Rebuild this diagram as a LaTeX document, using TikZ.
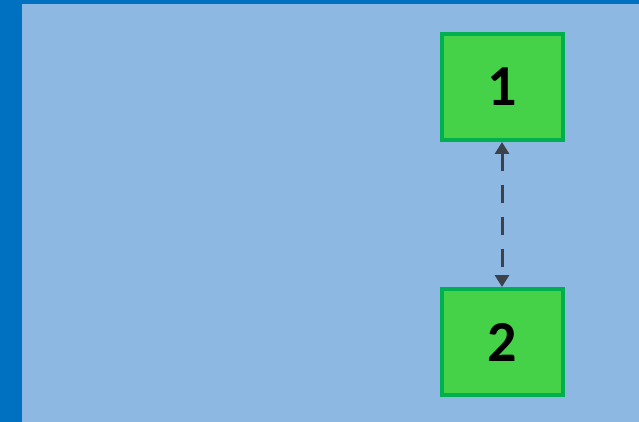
\documentclass[tikz,border=0pt]{standalone}
\usepackage{fontspec}
\setmainfont{Carlito}
\usetikzlibrary{arrows.meta}
\definecolor{bgblue}{RGB}{141,184,226}
\definecolor{darkblue}{RGB}{0,112,192}
\definecolor{boxgreen}{RGB}{70,210,72}
\definecolor{boxborder}{RGB}{0,176,80}
\definecolor{arrowgrey}{RGB}{60,66,76}
\tikzset{
  numbox/.style={draw=boxborder, fill=boxgreen, line width=4pt, minimum width=121pt, minimum height=106pt, inner sep=0pt, font=\fontsize{58}{58}\selectfont\bfseries, text=black},
  linkarrow/.style={draw=arrowgrey, line width=3pt, dash pattern=on 18pt off 14pt, {Triangle[width=14pt,length=12pt]}-{Triangle[width=14pt,length=12pt]}}
}
\begin{document}
\begin{tikzpicture}[x=1pt,y=-1pt]
\useasboundingbox (0,0) rectangle (639,422);
\fill[bgblue] (0,0) rectangle (639,422);
\fill[darkblue] (0,0) rectangle (22,422);
\fill[darkblue] (0,0) rectangle (639,4);
\node[numbox] (n1) at (502,87) {1};
\node[numbox] (n2) at (502,342) {2};
\draw[linkarrow] (n1.south) -- (n2.north);
\end{tikzpicture}
\end{document}
